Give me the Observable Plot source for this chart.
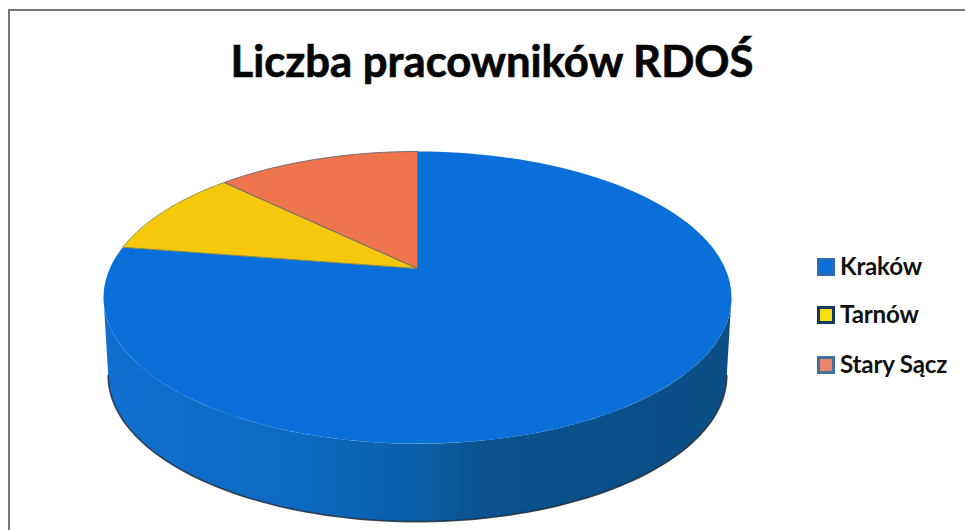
<!DOCTYPE html>
<html lang="pl">
<head>
<meta charset="utf-8">
<script src="https://cdn.jsdelivr.net/npm/d3@7"></script>
<script src="https://cdn.jsdelivr.net/npm/@observablehq/plot@0.6"></script>
<style>
  html, body { margin: 0; background: #fff; }
  #frame { position: absolute; left: 8px; top: 9px; width: 957px; height: 521px; box-sizing: border-box;
           border-left: 2px solid #777; border-top: 2px solid #777; overflow: hidden; }
  #title { position: absolute; left: 0; top: 19px; text-align: center; width: 964px;
           font: 700 43.6px Lato, sans-serif; line-height: 60px; color: #060606; -webkit-text-stroke: 0.7px #060606; }
  #chart { position: absolute; left: -10px; top: 100px; }
  #legend { position: absolute; left: 807px; top: 240px; font: 700 24.2px Lato, sans-serif; color: #111; }
  .item { position: absolute; left: 0; height: 30px; line-height: 30px; white-space: nowrap; letter-spacing: -0.2px; }
  .sw { display: inline-block; width: 12px; height: 12px; border: 3px solid; margin-right: 5px; vertical-align: -1px; }
</style>
</head>
<body>
<div id="frame">
  <div id="title"></div>
  <div id="chart"></div>
  <div id="legend"></div>
</div>
<script>
const titleText = "Liczba pracowników RDOŚ";
const categories = ["Kraków", "Tarnów", "Stary Sącz"];
const shares = [77.5, 9.8, 12.7];
const colors = ["#0a6fd9", "#f6c80c", "#ee744c"];
const edges = ["none", "#8d8a45", "#6e6a72"];
const swatchFills = ["#0a6fd9", "#f6de16", "#e9866a"];
const swatchEdges = ["#2a6cb8", "#17395c", "#41709f"];

// Tilted-disc view of the pie: unit circle to chart coordinates
const view = {cx: 417, cy: 267, a: 307.7, b: 140.3, k: 0.199, depth: 78, shrink: 0.985};
const project = (t) => {
  const u = Math.sin(t), v = Math.cos(t), w = 1 + view.k * v;
  return {x: view.cx + view.a * u / w, y: view.cy - view.b * v / w, t};
};
const arc = (t0, t1) => d3.range(0, 121).map((i) => project(t0 + (t1 - t0) * i / 120));

const pie = d3.pie().sort(null).startAngle(0).endAngle(2 * Math.PI)(shares);
const slices = pie.map((p, i) => ({
  i,
  points: [{x: view.cx, y: view.cy}, ...arc(p.startAngle, p.endAngle), {x: view.cx, y: view.cy}]
}));

// The rim of the disc: the near half of the edge, extruded downward
const tStart = Math.acos(-view.k), tEnd = 2 * Math.PI - tStart;
const rimTop = arc(tStart, tEnd);
const rimBottom = rimTop.map((p) => ({x: view.cx + (p.x - view.cx) * view.shrink, y: p.y + view.depth}));
const rim = [...rimTop, ...rimBottom.slice().reverse()];

const wallGradient = () => {
  const defs = d3.create("svg:defs");
  const g = defs.append("linearGradient").attr("id", "wall").attr("x1", "100%").attr("x2", "0%").attr("y1", "0").attr("y2", "0");
  [[0, "#0a4e85"], [0.4, "#0a5390"], [0.5, "#0a5ea8"], [0.69, "#0d69c2"], [1, "#0f6ecf"]]
    .forEach(([o, c]) => g.append("stop").attr("offset", o).attr("stop-color", c));
  return defs.node();
};

const plot = Plot.plot({
  width: 820,
  height: 430,
  margin: 0,
  x: {type: "linear", domain: [0, 820], range: [0, 820], axis: null},
  y: {type: "linear", domain: [110, 540], range: [0, 430], axis: null},
  marks: [
    wallGradient,
    Plot.line(rim, {x: "x", y: "y", fill: "url(#wall)", stroke: "none", curve: "linear"}),
    Plot.line(rimBottom, {x: "x", y: "y", stroke: "#20262e", strokeWidth: 1.6, strokeOpacity: 0.8, curve: "linear"}),
    ...slices.map((s) => Plot.line(s.points, {
      x: "x", y: "y", fill: colors[s.i], stroke: edges[s.i], strokeWidth: 1, curve: "linear"
    }))
  ]
});
document.getElementById("chart").append(plot);
document.getElementById("title").textContent = titleText;

const legend = d3.select("#legend");
categories.forEach((name, i) => {
  const item = legend.append("div").attr("class", "item").style("top", `${[0, 48, 98][i]}px`);
  item.append("span").attr("class", "sw").style("background", swatchFills[i]).style("border-color", swatchEdges[i]);
  item.append("span").text(name);
});
</script>
</body>
</html>
